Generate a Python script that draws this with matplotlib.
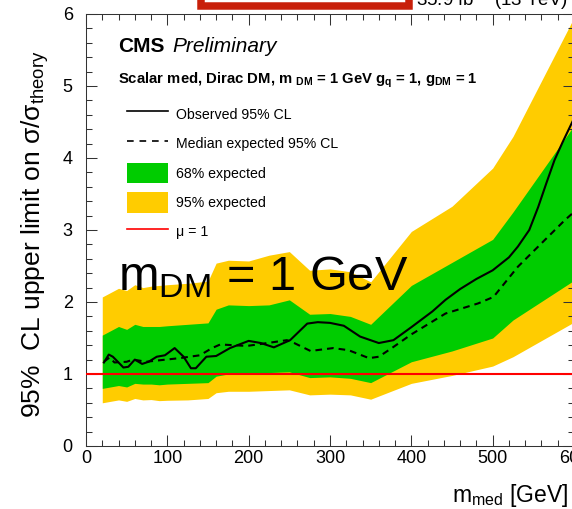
import matplotlib
matplotlib.use("Agg")
import matplotlib.pyplot as plt
from matplotlib.lines import Line2D
from matplotlib.patches import Patch, Rectangle
from matplotlib.ticker import MultipleLocator

plt.rcParams['font.family'] = ['Liberation Sans', 'DejaVu Sans']
plt.rcParams['mathtext.fontset'] = 'custom'
plt.rcParams['mathtext.rm'] = 'Liberation Sans'
plt.rcParams['mathtext.it'] = 'Liberation Sans:italic'
plt.rcParams['mathtext.bf'] = 'Liberation Sans:bold'

# mediator mass grid of the expected bands
band_mass = [20, 40, 50, 60, 70, 80, 90, 100, 125, 150, 160, 175, 200, 225,
             250, 275, 300, 325, 350, 400, 450, 500, 525, 600]
yellow_hi = [2.07, 2.19, 2.16, 2.24, 2.20, 2.22, 2.23, 2.24, 2.26, 2.29, 2.54, 2.58,
             2.57, 2.65, 2.70, 2.44, 2.46, 2.42, 2.28, 2.98, 3.33, 3.86, 4.30, 5.95]
green_hi = [1.54, 1.66, 1.62, 1.69, 1.66, 1.66, 1.66, 1.67, 1.69, 1.71, 1.90, 1.96,
            1.95, 1.96, 2.03, 1.83, 1.84, 1.80, 1.69, 2.23, 2.55, 2.87, 3.25, 4.45]
green_lo = [0.80, 0.84, 0.82, 0.87, 0.86, 0.86, 0.85, 0.86, 0.87, 0.88, 0.97, 1.00,
            1.01, 1.02, 1.03, 0.95, 0.96, 0.94, 0.88, 1.17, 1.32, 1.50, 1.75, 2.30]
yellow_lo = [0.60, 0.64, 0.62, 0.66, 0.64, 0.645, 0.63, 0.635, 0.64, 0.66, 0.74, 0.76,
             0.76, 0.77, 0.78, 0.71, 0.72, 0.71, 0.65, 0.87, 0.98, 1.11, 1.24, 1.72]

# observed limit
obs_mass = [22, 28, 33, 40, 46, 52, 60, 69, 77, 87, 97, 109, 120, 129, 135, 148, 160,
            177, 200, 215, 231, 251, 272, 285, 300, 317, 337, 360, 378, 400, 426, 442,
            460, 480, 500, 520, 531, 545, 556, 566, 576, 586, 600]
obs_limit = [1.16, 1.27, 1.24, 1.16, 1.09, 1.10, 1.20, 1.14, 1.17, 1.24, 1.26, 1.36,
             1.24, 1.08, 1.08, 1.24, 1.25, 1.36, 1.46, 1.43, 1.37, 1.47, 1.70, 1.72,
             1.71, 1.67, 1.52, 1.43, 1.47, 1.65, 1.87, 2.03, 2.18, 2.32, 2.44, 2.62,
             2.77, 3.00, 3.32, 3.65, 3.97, 4.22, 4.55]

# median expected limit
exp_mass = [22, 29, 35, 50, 58, 74, 90, 115, 140, 155, 165, 198, 223, 247, 256, 276,
            304, 323, 348, 360, 376, 400, 442, 482, 501, 531, 564, 589, 600]
exp_limit = [1.17, 1.23, 1.16, 1.17, 1.20, 1.17, 1.19, 1.22, 1.26, 1.36, 1.41, 1.39,
             1.43, 1.47, 1.43, 1.32, 1.36, 1.33, 1.22, 1.24, 1.36, 1.55, 1.84, 1.98,
             2.07, 2.49, 2.86, 3.14, 3.25]

legend_labels = ["Observed 95% CL", "Median expected 95% CL", "68% expected",
                 "95% expected", "\u03bc = 1"]

GREEN = '#00cc00'
YELLOW = '#ffcc00'
RED = '#ff0000'

W, H = 572, 509
fig = plt.figure(figsize=(W / 100, H / 100), dpi=100)
ax = fig.add_axes([86 / W, (H - 446) / H, (574 - 86) / W, 432 / H])

ax.fill_between(band_mass, yellow_lo, yellow_hi, color=YELLOW, lw=0, zorder=1)
ax.fill_between(band_mass, green_lo, green_hi, color=GREEN, lw=0, zorder=2)
ax.plot(exp_mass, exp_limit, color='black', lw=1.5, ls=(0, (3.2, 2.4)), zorder=4)
ax.plot(obs_mass, obs_limit, color='black', lw=1.5, zorder=5)
ax.axhline(1.0, color=RED, lw=1.5, zorder=3)

ax.set_xlim(0, 600)
ax.set_ylim(0, 6)
ax.xaxis.set_major_locator(MultipleLocator(100))
ax.xaxis.set_minor_locator(MultipleLocator(20))
ax.yaxis.set_major_locator(MultipleLocator(1))
ax.yaxis.set_minor_locator(MultipleLocator(0.2))
ax.tick_params(which='both', direction='in', top=True, right=True,
               width=0.75, color='#333333', labelsize=13)
ax.tick_params(which='major', length=8)
ax.tick_params(which='minor', length=4)
ax.tick_params(axis='y', pad=9.5)
ax.tick_params(axis='x', pad=3)
for s in ax.spines.values():
    s.set_linewidth(0.75)
    s.set_color('#333333')

# labels
fig.text(35 / W, 1 - 50 / H, "95%  CL upper limit on \u03c3/\u03c3$_{\\rm theory}$",
         rotation=90, ha='center', va='top', fontsize=19)
fig.text(451.7 / W, 1 - 501.7 / H, "m$_{\\rm med}$ [GeV]", ha='left', va='baseline',
         fontsize=16.5)

# header
ax.text(0.0662, 0.9127, "CMS", transform=ax.transAxes, fontsize=15,
        fontweight='bold', va='baseline')
ax.text(0.1777, 0.9127, "Preliminary", transform=ax.transAxes, fontsize=15,
        style='italic', va='baseline')
ax.text(0.0662, 0.8396,
        "Scalar med, Dirac DM, m $_{\\mathbf{DM}}$ = 1 GeV g$_{\\mathbf{q}}$ = 1, "
        "g$_{\\mathbf{DM}}$ = 1",
        transform=ax.transAxes, fontsize=10.7, fontweight='bold', va='baseline')
ax.text(0.066, 0.361, "m$_{\\rm DM}$ = 1 GeV", transform=ax.transAxes,
        fontsize=35, va='baseline', zorder=6)

handles = [Line2D([], [], color='black', lw=1.2),
           Line2D([], [], color='black', lw=1.2, ls=(0, (4, 3.5))),
           Patch(facecolor=GREEN, edgecolor='none'),
           Patch(facecolor=YELLOW, edgecolor='none'),
           Line2D([], [], color=RED, lw=1.2)]
ax.legend(handles, legend_labels, loc='upper left', bbox_to_anchor=(0.0834, 0.7917),
          frameon=False, fontsize=10.2, borderpad=0, borderaxespad=0,
          handlelength=2.94, handleheight=1.86, labelspacing=0.62,
          handletextpad=0.56)

# lumi label and the red box at the top edge
fig.text(568 / W, 1 - 6.3 / H, "35.9 fb$^{-1}$ (13 TeV)", ha='right', va='baseline',
         fontsize=13.5)
box = Rectangle((201.1 / W, 1 - 5.6 / H), (408.5 - 201.1) / W, 0.1,
                transform=fig.transFigure, facecolor='white', edgecolor='#c8200a',
                linewidth=5.4, zorder=10)
fig.add_artist(box)

fig.savefig("out.png", dpi=100)
